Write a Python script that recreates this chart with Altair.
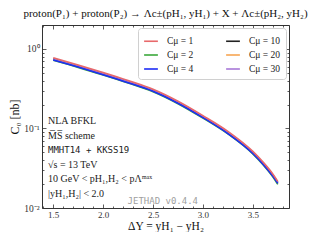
import altair as alt
import pandas as pd

# ---- data ----
dY = [1.5, 1.75, 2.0, 2.25, 2.5, 2.75, 3.0, 3.25, 3.5, 3.6, 3.7, 3.75]
C0_mu1 = [0.773, 0.628, 0.505, 0.401, 0.311, 0.220, 0.145, 0.092, 0.0515, 0.0381, 0.0268, 0.0216]
C0_mu2 = [0.720, 0.586, 0.470, 0.373, 0.290, 0.205, 0.135, 0.0854, 0.0478, 0.0352, 0.0246, 0.0198]
C0_mu4 = [0.728, 0.592, 0.475, 0.377, 0.293, 0.208, 0.137, 0.0863, 0.0485, 0.0359, 0.0252, 0.0204]
C0_mu10 = [0.750, 0.610, 0.490, 0.389, 0.302, 0.214, 0.141, 0.089, 0.050, 0.037, 0.026, 0.021]
C0_mu20 = [0.743, 0.604, 0.485, 0.385, 0.299, 0.212, 0.140, 0.0881, 0.0495, 0.0366, 0.0257, 0.0208]
C0_mu30 = [0.746, 0.607, 0.488, 0.387, 0.300, 0.213, 0.140, 0.0886, 0.0498, 0.0368, 0.0259, 0.0209]

series_names = ["Cμ = 1", "Cμ = 2", "Cμ = 4", "Cμ = 10", "Cμ = 20", "Cμ = 30"]
series_vals = [C0_mu1, C0_mu2, C0_mu4, C0_mu10, C0_mu20, C0_mu30]
series_colors = ["#e8696b", "#3aa83a", "#1d2cf5", "#222222", "#f7a552", "#a878d8"]

draw_order = ["Cμ = 10", "Cμ = 20", "Cμ = 30", "Cμ = 2", "Cμ = 4", "Cμ = 1"]

x_major = [1.5, 2.0, 2.5, 3.0, 3.5]
x_minor = [1.4, 1.6, 1.7, 1.8, 1.9, 2.1, 2.2, 2.3, 2.4, 2.6, 2.7, 2.8, 2.9,
           3.1, 3.2, 3.3, 3.4, 3.6, 3.7, 3.8]
y_major = [0.01, 0.1, 1.0]
y_minor = [0.02, 0.03, 0.04, 0.05, 0.06, 0.07, 0.08, 0.09,
           0.2, 0.3, 0.4, 0.5, 0.6, 0.7, 0.8, 0.9, 2.0]

title_text = "proton(P₁) + proton(P₂) → Λc±(pH₁, yH₁) + X + Λc±(pH₂, yH₂)"
ann_lines = ["NLA BFKL", "M̅S̅ scheme", "MMHT14 + KKSS19", "√s = 13 TeV",
             "10 GeV < pH₁,H₂ < pΛᵐᵃˣ", "|yH₁,H₂| < 2.0"]
ann_fonts = ["Liberation Serif", "Liberation Serif", "DejaVu Sans Mono",
             "Liberation Serif", "Liberation Serif", "Liberation Serif"]
watermark = "JETHAD v0.4.4"

# ---- build table ----
rows = []
for name, vals in zip(series_names, series_vals):
    for x, v in zip(dY, vals):
        rows.append({"dY": x, "C0": v, "series": name})
df = pd.DataFrame(rows)

W, H = 247, 183
SERIF = "Liberation Serif"
xs = alt.Scale(domain=[1.3875, 3.8625], nice=False, zero=False)
ys = alt.Scale(type="log", domain=[0.01, 2.0], nice=False)

color = alt.Color(
    "series:N",
    scale=alt.Scale(domain=series_names, range=series_colors),
    legend=alt.Legend(
        orient="top-right", columns=2, title=None, symbolType="stroke",
        symbolStrokeWidth=1.6, symbolSize=190, labelFont=SERIF, labelFontSize=9.5,
        labelColor="#222", fillColor="white", strokeColor="#d0d0d0",
        cornerRadius=3, padding=5, offset=3, rowPadding=1, columnPadding=28,
        labelOffset=8,
    ),
)

main_x_axis = alt.Axis(values=x_major, format=".1f", ticks=False, domain=False, grid=False,
                       labelFont=SERIF, labelFontSize=9, labelColor="#333", labelPadding=2,
                       title="ΔY = yH₁ − yH₂", titleFont=SERIF, titleFontSize=11.5,
                       titleFontWeight="normal", titleColor="#111",
                       titleY=18, titleBaseline="middle")
main_y_axis = alt.Axis(values=y_major, ticks=False, domain=False, grid=False,
                       labelExpr="datum.value >= 0.5 ? '10⁰' : (datum.value >= 0.05 ? '10⁻¹' : '10⁻²')",
                       labelFont=SERIF, labelFontSize=9.5, labelColor="#333", labelPadding=3,
                       title="C₀ [nb]", titleFont=SERIF, titleFontSize=12,
                       titleFontWeight="normal", titleColor="#111", titlePadding=2)

layers = []
for i, name in enumerate(draw_order):
    first = i == 0
    layers.append(
        alt.Chart(df).transform_filter(alt.datum.series == name)
        .mark_line(strokeWidth=1.6, interpolate="monotone")
        .encode(
            x=alt.X("dY:Q", scale=xs, axis=main_x_axis if first else None),
            y=alt.Y("C0:Q", scale=ys, axis=main_y_axis if first else None),
            color=color,
        )
    )


def tick_layer(xv, yv, size, xorient, yorient):
    ax = alt.Axis(orient=xorient, offset=-H, values=xv, tickSize=size, labels=False,
                  domain=False, grid=False, title="", tickColor="#333", tickWidth=0.8)
    ay = alt.Axis(orient=yorient, offset=-W, values=yv, tickSize=size, labels=False,
                  domain=False, grid=False, title="", tickColor="#333", tickWidth=0.8)
    return alt.Chart(df).mark_point(opacity=0).encode(
        x=alt.X("dY:Q", scale=xs, axis=ax),
        y=alt.Y("C0:Q", scale=ys, axis=ay),
    )


layers += [
    tick_layer(x_major, y_major, 4, "top", "right"),
    tick_layer(x_minor, y_minor, 2, "top", "right"),
    tick_layer(x_major, y_major, 4, "bottom", "left"),
    tick_layer(x_minor, y_minor, 2, "bottom", "left"),
]

y0, step = 96, 14.6
for i, (t, f) in enumerate(zip(ann_lines, ann_fonts)):
    layers.append(
        alt.Chart(pd.DataFrame({"t": [t]}))
        .mark_text(align="left", baseline="middle", font=f,
                   fontSize=9 if "Mono" in f else 10, color="#222")
        .encode(x=alt.value(6), y=alt.value(y0 + i * step), text="t:N")
    )
layers.append(
    alt.Chart(pd.DataFrame({"t": [watermark]}))
    .mark_text(align="right", baseline="middle", font="DejaVu Sans Mono",
               fontSize=9, color="#a0a0a0")
    .encode(x=alt.value(156), y=alt.value(176), text="t:N")
)

chart = (
    alt.layer(*layers)
    .resolve_axis(x="independent", y="independent")
    .properties(
        width=W, height=H,
        title=alt.Title(title_text, font=SERIF, fontSize=11, fontWeight="normal",
                        anchor="middle", offset=6, color="#111"),
        padding={"left": 34, "top": 17, "right": 21, "bottom": 24},
        autosize=alt.AutoSizeParams(type="none"),
    )
    .configure_view(stroke="#333", strokeWidth=1)
)

chart.save("out.html", embed_options={"renderer": "svg", "actions": False})
